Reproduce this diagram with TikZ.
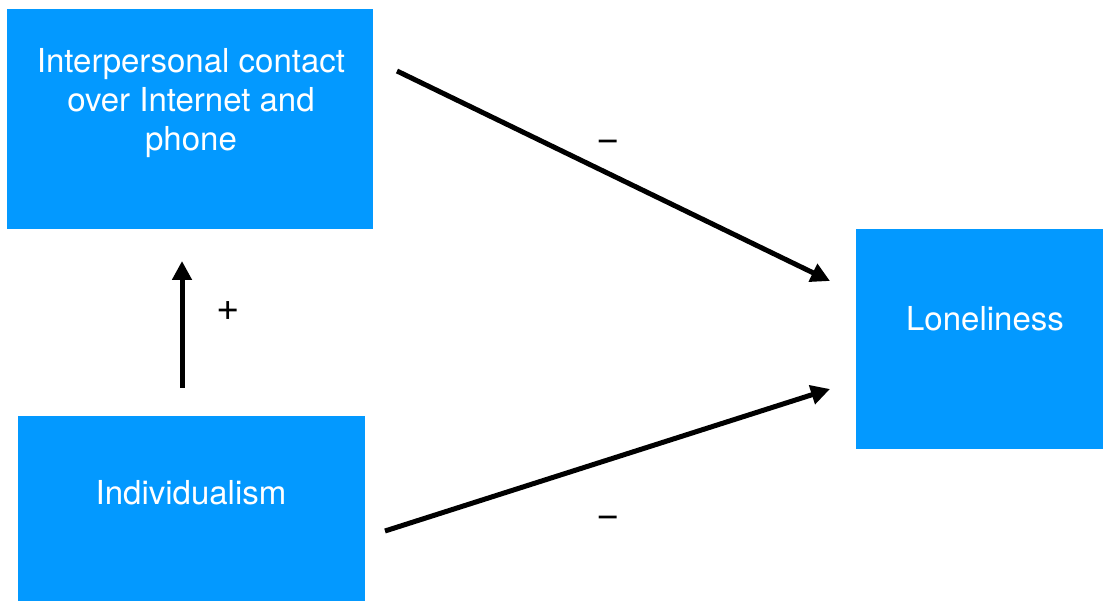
\documentclass[tikz,border=0pt]{standalone}
\usepackage{fontspec}
\setmainfont{TeX Gyre Heros}
\usetikzlibrary{arrows.meta}
\definecolor{boxblue}{RGB}{3,153,255}
\tikzset{
  box/.style={fill=boxblue, draw=none, inner sep=0pt, anchor=north west},
  boxtext/.style={text=white, font=\fontsize{33}{39}\selectfont, align=center, inner sep=0pt},
  sign/.style={text=black, font=\fontsize{40}{42}\selectfont, inner sep=0pt},
  link/.style={line width=5pt, -{Triangle[length=19pt,width=19pt]}}
}
\begin{document}
\begin{tikzpicture}[x=1pt,y=-1pt]
  \useasboundingbox (0,0) rectangle (1103,601);
  % boxes
  \node[box, minimum width=366pt, minimum height=220pt] (contact) at (7,9) {};
  \node[box, minimum width=250pt, minimum height=220pt] (lonely) at (856,229) {};
  \node[box, minimum width=347pt, minimum height=200pt] (indiv) at (18,416) {};
  % box labels
  \node[boxtext] (contactText) at (191,103) {Interpersonal contact\\over Internet and\\phone};
  \node[boxtext, anchor=base] (lonelyText) at (985,331) {Loneliness};
  \node[boxtext, anchor=base] (indivText) at (191,504) {Individualism};
  % arrow ends
  \coordinate (a1s) at (397,71);
  \coordinate (a1e) at (830,281);
  \coordinate (a2s) at (385,531);
  \coordinate (a2e) at (830,389);
  \coordinate (a3s) at (182,388);
  \coordinate (a3e) at (182,261);
  % connectors
  \draw[link] (a1s) -- (a1e);
  \draw[link] (a2s) -- (a2e);
  \draw[link] (a3s) -- (a3e);
  % signs
  \node[sign] (s1) at (608,146) {−};
  \node[sign] (s2) at (608,522) {−};
  \node[sign] (s3) at (228,311) {+};
\end{tikzpicture}
\end{document}
